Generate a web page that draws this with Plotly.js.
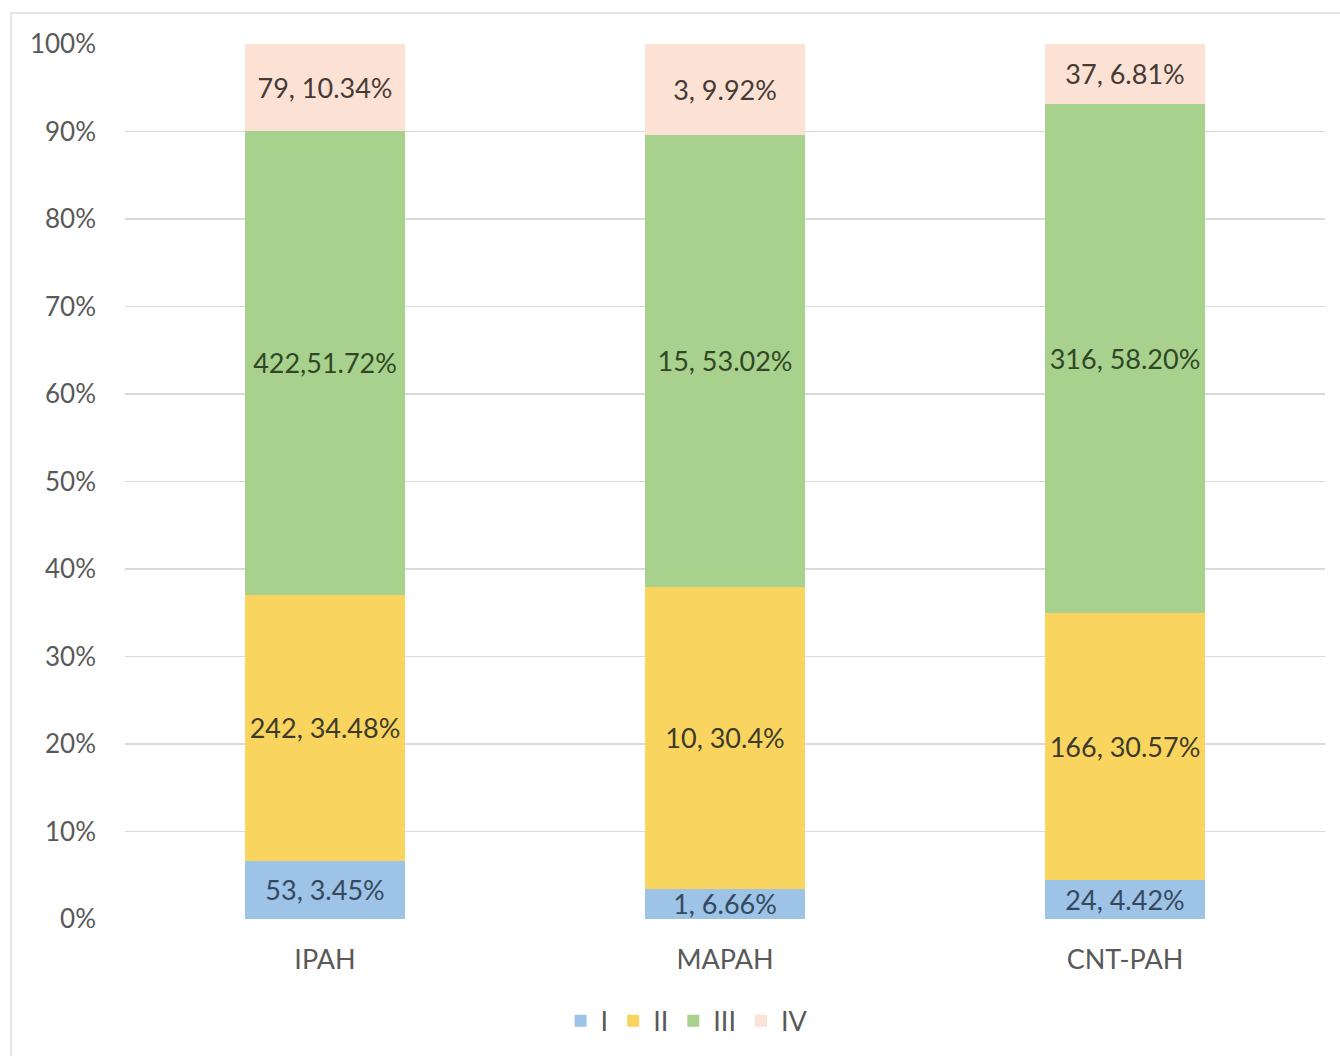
<!DOCTYPE html>
<html>
<head>
<meta charset="utf-8">
<script src="https://cdn.plot.ly/plotly-3.0.1.min.js"></script>
<style>
html,body{margin:0;padding:0;background:#fff;}
#frame{position:absolute;left:10px;top:12px;width:1340px;height:1060px;border:2px solid #e6e6e6;box-sizing:border-box;}
#chart{position:absolute;left:0;top:0;width:1340px;height:1056px;}
</style>
</head>
<body>
<div id="frame"></div>
<div id="chart"></div>
<script>
var categories = ["IPAH", "MAPAH", "CNT-PAH"];
var seriesNames = ["I", "II", "III", "IV"];
var countsI   = [53, 1, 24];
var countsII  = [242, 10, 166];
var countsIII = [422, 15, 316];
var countsIV  = [79, 3, 37];
var labelsI   = ["53, 3.45%", "1, 6.66%", "24, 4.42%"];
var labelsII  = ["242, 34.48%", "10, 30.4%", "166, 30.57%"];
var labelsIII = ["422,51.72%", "15, 53.02%", "316, 58.20%"];
var labelsIV  = ["79, 10.34%", "3, 9.92%", "37, 6.81%"];
var tickVals = [0, 10, 20, 30, 40, 50, 60, 70, 80, 90, 100];
var tickText = ["0%", "10%", "20%", "30%", "40%", "50%", "60%", "70%", "80%", "90%", "100%"];

var colors = ["#9dc3e6", "#f9d55f", "#a9d18e", "#fbe2d5"];
var textColors = ["#34495e", "#3d3a2a", "#2f4726", "#473a35"];
var allCounts = [countsI, countsII, countsIII, countsIV];
var allLabels = [labelsI, labelsII, labelsIII, labelsIV];

var traces = seriesNames.map(function(name, i) {
  return {
    type: "bar",
    name: name,
    x: categories,
    y: allCounts[i],
    text: allLabels[i],
    textposition: "inside",
    insidetextanchor: "middle",
    textangle: 0,
    constraintext: "none",
    cliponaxis: false,
    textfont: {family: "Lato, 'Open Sans', sans-serif", size: 27, color: textColors[i]},
    marker: {color: colors[i], line: {width: 0}},
    hoverinfo: "none"
  };
});

var layout = {
  width: 1340,
  height: 1056,
  barmode: "stack",
  barnorm: "percent",
  bargap: 0.6,
  paper_bgcolor: "rgba(0,0,0,0)",
  plot_bgcolor: "rgba(0,0,0,0)",
  margin: {l: 125, r: 15, t: 44, b: 137},
  font: {family: "Lato, 'Open Sans', sans-serif", color: "#595959"},
  xaxis: {
    type: "category",
    automargin: false,
    showgrid: false,
    showline: false,
    zeroline: false,
    ticks: "",
    tickfont: {size: 27, color: "#595959"},
    ticklabelstandoff: 22
  },
  yaxis: {
    range: [0, 100],
    automargin: false,
    tickvals: tickVals,
    ticktext: tickText,
    showgrid: true,
    gridcolor: "#d9d9d9",
    gridwidth: 1.5,
    zeroline: false,
    showline: false,
    ticks: "",
    ticklabelstandoff: 28,
    tickfont: {size: 26, color: "#595959"}
  },
  showlegend: true,
  legend: {
    orientation: "h",
    x: 0.468,
    xanchor: "center",
    yref: "container",
    y: 0.033,
    yanchor: "middle",
    font: {size: 27, color: "#595959"},
    traceorder: "normal",
    itemwidth: 30
  }
};

Plotly.newPlot("chart", traces, layout, {displayModeBar: false, staticPlot: true});
</script>
</body>
</html>
